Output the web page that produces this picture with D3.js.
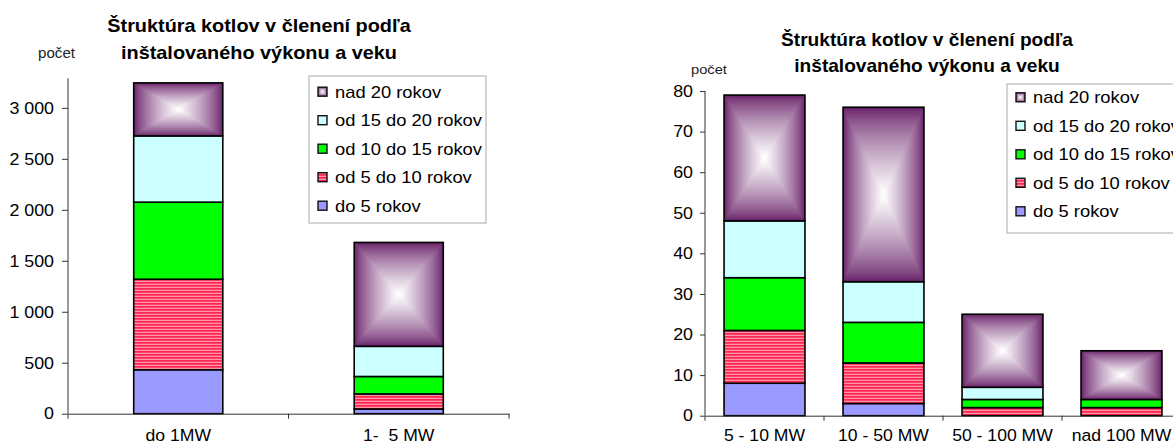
<!DOCTYPE html>
<html>
<head>
<meta charset="utf-8">
<script src="https://cdnjs.cloudflare.com/ajax/libs/d3/7.8.5/d3.min.js"></script>
<style>
html,body{margin:0;padding:0;background:#fff;}
svg{display:block;font-family:"Liberation Sans",Arial,sans-serif;}
text{white-space:pre;}
</style>
</head>
<body>
<svg id="chart" width="1173" height="448"></svg>
<script>
// ---- data ----
const seriesNames = ["do 5 rokov", "od 5 do 10 rokov", "od 10 do 15 rokov", "od 15 do 20 rokov", "nad 20 rokov"];
const titleLines = ["Štruktúra kotlov v členení podľa", "inštalovaného výkonu a veku"];
const yLabel = "počet";

const leftCategories = ["do 1MW", "1-  5 MW"];
const leftDo5 = [431, 46];
const left5to10 = [888, 148];
const left10to15 = [756, 171];
const left15to20 = [650, 296];
const leftOver20 = [520, 1019];
const leftTicks = [0, 500, 1000, 1500, 2000, 2500, 3000];
const leftTickLabels = ["0", "500", "1 000", "1 500", "2 000", "2 500", "3 000"];
const leftMax = 3290;

const rightCategories = ["5 - 10 MW", "10 - 50 MW", "50 - 100 MW", "nad 100 MW"];
const rightDo5 = [8, 3, 0, 0];
const right5to10 = [13, 10, 2, 2];
const right10to15 = [13, 10, 2, 2];
const right15to20 = [14, 10, 3, 0];
const rightOver20 = [31, 43, 18, 12];
const rightTicks = [0, 10, 20, 30, 40, 50, 60, 70, 80];
const rightTickLabels = ["0", "10", "20", "30", "40", "50", "60", "70", "80"];
const rightMax = 80;

// ---- drawing ----
const svg = d3.select("#chart");
const STRETCH = 1.08;
const axisColor = "#333";

const defs = svg.append("defs");
const pat = defs.append("pattern").attr("id", "stripes").attr("patternUnits", "userSpaceOnUse")
  .attr("width", 6).attr("height", 3);
pat.append("rect").attr("width", 6).attr("height", 3).attr("fill", "#ff94aa");
pat.append("rect").attr("width", 6).attr("height", 1.7).attr("fill", "#ff2350");

const solid = { 0: "#9999ff", 1: "url(#stripes)", 2: "#00ff00", 3: "#ccffff" };
const gradEdge = d3.color("#682068");

function stretchText(sel) {
  sel.each(function () {
    const len = this.getComputedTextLength();
    if (len > 0) {
      this.setAttribute("textLength", len * STRETCH);
      this.setAttribute("lengthAdjust", "spacingAndGlyphs");
    }
  });
}

function centerGradientRect(g, x, y, w, h) {
  const N = 48;
  const interp = d3.interpolateRgb(gradEdge, "#ffffff");
  const steps = d3.range(N);
  g.selectAll(null).data(steps).enter().append("rect")
    .attr("x", k => x + (w / 2) * (k / N))
    .attr("y", k => y + (h / 2) * (k / N))
    .attr("width", k => Math.max(0, w * (1 - k / N)))
    .attr("height", k => Math.max(0, h * (1 - k / N)))
    .attr("fill", k => interp(Math.pow(k / (N - 1), 0.75)));
}

function drawChart(cfg) {
  const g = svg.append("g");
  const x = d3.scaleBand().domain(cfg.categories).range([cfg.x0, cfg.x1]).padding(0);
  const y = d3.scaleLinear().domain([0, cfg.max]).range([cfg.yBottom, cfg.yTop]);

  const rows = cfg.categories.map((c, i) => {
    const r = { cat: c };
    cfg.series.forEach((s, j) => r[j] = s[i]);
    return r;
  });
  const stack = d3.stack().keys(d3.range(cfg.series.length))(rows);

  const bw = x.bandwidth() * cfg.barRatio;
  const off = (x.bandwidth() - bw) / 2;

  // bars
  stack.forEach((layer, si) => {
    layer.forEach((d, ci) => {
      if (d[1] - d[0] <= 0) return;
      const bx = x(cfg.categories[ci]) + off;
      const by = y(d[1]);
      const bh = y(d[0]) - y(d[1]);
      const seg = g.append("g");
      if (si === 4) centerGradientRect(seg, bx, by, bw, bh);
      else seg.append("rect").attr("x", bx).attr("y", by).attr("width", bw).attr("height", bh).attr("fill", solid[si]);
      seg.append("rect").attr("x", bx).attr("y", by).attr("width", bw).attr("height", bh)
        .attr("fill", "none").attr("stroke", "#000").attr("stroke-width", 1.6);
    });
  });

  // y axis
  const ya = g.append("g").attr("transform", `translate(${cfg.x0},0)`)
    .call(d3.axisLeft(y).tickValues(cfg.ticks).tickSize(cfg.tickSize).tickPadding(cfg.tickPad)
      .tickFormat((d, i) => cfg.tickLabels[i]));
  ya.select(".domain").remove();
  ya.selectAll("line").attr("stroke", axisColor);
  ya.selectAll("text").attr("font-size", cfg.tickFont).attr("fill", "#000")
    .attr("font-family", "Liberation Sans, Arial, sans-serif").call(stretchText);
  g.append("line").attr("x1", cfg.x0).attr("x2", cfg.x0).attr("y1", cfg.yTop).attr("y2", cfg.yBottom)
    .attr("stroke", axisColor).attr("stroke-width", 1);

  // x axis
  const xa = g.append("g").attr("transform", `translate(0,${cfg.yBottom})`)
    .call(d3.axisBottom(x).tickSize(0).tickPadding(cfg.xPad));
  xa.select(".domain").attr("stroke", axisColor);
  xa.selectAll("text").attr("font-size", cfg.xFont).attr("fill", "#000")
    .attr("font-family", "Liberation Sans, Arial, sans-serif").call(stretchText);
  const bounds = cfg.categories.map(c => x(c)).concat([cfg.x1]);
  g.selectAll(null).data(bounds).enter().append("line")
    .attr("x1", d => d).attr("x2", d => d)
    .attr("y1", cfg.yBottom).attr("y2", cfg.yBottom + 5)
    .attr("stroke", axisColor);

  // title
  titleLines.forEach((t, i) => {
    g.append("text").attr("x", cfg.titleX).attr("y", cfg.titleY[i]).attr("dy", "0.36em")
      .attr("text-anchor", "middle").attr("font-weight", "bold").attr("font-size", cfg.titleFont)
      .text(t).call(stretchText);
  });
  // y label
  g.append("text").attr("x", cfg.yLabelX).attr("y", cfg.yLabelY).attr("dy", "0.36em")
    .attr("text-anchor", "middle").attr("font-size", cfg.yLabelFont).attr("fill", "#222")
    .text(yLabel).call(stretchText);

  // legend
  const L = cfg.legend;
  g.append("rect").attr("x", L.x).attr("y", L.y).attr("width", L.w).attr("height", L.h)
    .attr("fill", "#fff").attr("stroke", "#b8b8b8").attr("stroke-width", 1.2);
  const order = [4, 3, 2, 1, 0];
  order.forEach((si, k) => {
    const cy = L.firstY + k * L.step;
    const sw = 9;
    const sx = L.x + 9, sy = cy - sw / 2;
    const lg = g.append("g");
    if (si === 4) centerGradientRect(lg, sx, sy, sw, sw);
    else lg.append("rect").attr("x", sx).attr("y", sy).attr("width", sw).attr("height", sw).attr("fill", solid[si]);
    lg.append("rect").attr("x", sx).attr("y", sy).attr("width", sw).attr("height", sw)
      .attr("fill", "none").attr("stroke", "#111").attr("stroke-width", 1.4);
    g.append("text").attr("x", L.x + 26).attr("y", cy).attr("dy", "0.36em")
      .attr("font-size", L.font).attr("fill", "#000").text(seriesNames[si]).call(stretchText);
  });
}

drawChart({
  categories: leftCategories,
  series: [leftDo5, left5to10, left10to15, left15to20, leftOver20],
  max: leftMax, ticks: leftTicks, tickLabels: leftTickLabels,
  x0: 68, x1: 509, yTop: 78.3, yBottom: 413.7, barRatio: 0.404,
  tickSize: 6, tickPad: 8, tickFont: 16.5, xFont: 16.3, xPad: 16,
  titleX: 259, titleY: [25, 52], titleFont: 18.4,
  yLabelX: 56.5, yLabelY: 53, yLabelFont: 14,
  legend: { x: 309, y: 76, w: 177, h: 147, firstY: 91.7, step: 28.5, font: 17 }
});

drawChart({
  categories: rightCategories,
  series: [rightDo5, right5to10, right10to15, right15to20, rightOver20],
  max: rightMax, ticks: rightTicks, tickLabels: rightTickLabels,
  x0: 705, x1: 1181, yTop: 91, yBottom: 415.7, barRatio: 0.68,
  tickSize: 5, tickPad: 7, tickFont: 16.5, xFont: 16.3, xPad: 14,
  titleX: 927, titleY: [40, 66], titleFont: 17.7,
  yLabelX: 709, yLabelY: 69, yLabelFont: 13.6,
  legend: { x: 1007, y: 84, w: 177, h: 149, firstY: 97.3, step: 28.5, font: 17 }
});
</script>
</body>
</html>
